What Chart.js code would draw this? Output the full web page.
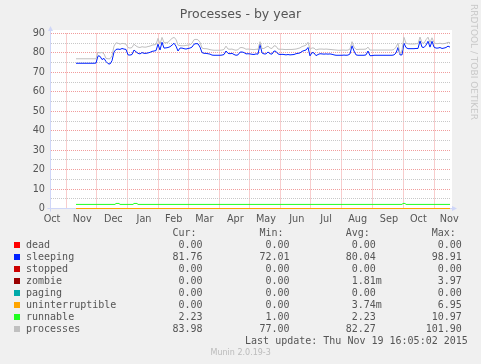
<!DOCTYPE html>
<html>
<head>
<meta charset="utf-8">
<title>Processes - by year</title>
<script src="https://cdn.jsdelivr.net/npm/chart.js@4/dist/chart.umd.min.js"></script>
<style>
html,body{margin:0;padding:0;background:#f0f0f0;}
#box{position:relative;width:481px;height:364px;overflow:hidden;color:#555;font-family:"DejaVu Sans",sans-serif;}
#c{position:absolute;left:0;top:0;}
.txt{position:absolute;white-space:pre;line-height:1;}
.mono{font-family:"DejaVu Sans Mono",monospace;}
.sq{position:absolute;width:6px;height:6px;}
</style>
</head>
<body>
<div id="box">
  <canvas id="c" width="481" height="364"></canvas>
</div>
<script>
// ---- data ----
// x axis = days into the 400-day window ending Thu Nov 19 16:05:02 2015
const monthNames     = ['Oct','Nov','Dec','Jan','Feb','Mar','Apr','May','Jun','Jul','Aug','Sep','Oct','Nov'];
const monthLabelDays = [1, 31.2, 62.3, 93, 122.7, 153.3, 184.3, 215, 245.7, 275, 306.7, 338, 367.3, 398.3];
const monthStartDays = [15.7, 45.5, 76, 107, 137.5, 168.5, 198.7, 229, 259.7, 290.3, 321.7, 352.3, 383];

const seriesNames  = ['dead','sleeping','stopped','zombie','paging','uninterruptible','runnable','processes'];
const seriesColors = ['#ff0000','#0022ff','#cc0000','#990000','#00aaaa','#ffa500','#22ff22','#c0c0c0'];
const curVals = ['0.00','81.76','0.00','0.00','0.00','0.00','2.23','83.98'];
const minVals = ['0.00','72.01','0.00','0.00','0.00','0.00','1.00','77.00'];
const avgVals = ['0.00','80.04','0.00','1.81m','0.00','3.74m','2.23','82.27'];
const maxVals = ['0.00','98.91','0.00','3.97','0.00','6.95','10.97','101.90'];

// sleeping / processes sampled every 2 days from day 25 to day 399
const FIRST_DAY = 25, STEP_DAYS = 2;
const sleeping = [
  74.7,74.7,74.7,74.7,74.7,74.7,74.7,74.7,74.7,74.7,
  74.8,78.5,78.3,76.6,77.2,75.6,74.5,74.3,76.0,80.5,
  81.8,82.0,81.8,82.3,82.0,81.8,79.0,78.9,79.2,81.5,
  80.6,79.8,79.5,80.2,79.8,79.8,80.0,80.3,80.8,81.0,
  81.2,84.5,81.5,85.5,82.5,82.6,82.8,83.2,84.0,85.0,
  83.5,81.0,82.5,82.5,82.2,82.0,82.3,82.5,83.0,84.5,
  84.8,84.7,83.0,80.2,79.8,79.8,79.6,79.4,78.9,78.8,
  78.8,78.8,78.8,78.9,79.2,81.0,79.8,79.6,79.8,79.2,
  78.8,79.0,80.4,80.5,80.2,79.5,79.6,79.5,79.3,79.2,
  79.5,79.4,84.5,80.0,79.5,79.5,80.5,79.6,79.4,81.0,
  80.8,79.5,79.2,79.3,79.2,79.0,79.2,79.0,79.1,79.2,
  79.6,79.8,80.0,80.8,81.2,81.5,82.8,78.5,80.2,80.0,
  78.6,79.2,79.6,79.5,79.4,79.5,79.4,79.5,79.3,79.0,
  78.8,78.8,78.8,78.8,78.9,78.8,78.9,79.5,83.7,81.0,
  79.0,78.8,78.8,78.8,78.8,79.0,81.0,78.6,78.6,78.8,
  78.8,78.8,78.8,78.8,78.8,78.8,78.8,78.8,78.8,79.0,
  80.0,82.8,79.0,79.0,85.0,82.8,82.2,82.2,82.2,82.2,
  82.3,82.3,86.2,83.0,82.8,84.0,86.0,83.0,86.0,83.0,
  82.5,82.5,82.8,82.3,82.5,82.8,83.5,83.0
];
const processes = [
  77.0,77.0,77.0,77.0,77.0,77.0,77.0,77.0,77.0,77.0,
  77.0,80.3,80.0,80.3,79.5,77.2,77.0,77.0,78.5,83.5,
  85.2,85.0,84.5,84.9,84.8,84.5,82.8,82.5,82.8,84.5,
  83.6,83.0,82.8,83.2,83.0,83.0,83.3,83.5,84.0,84.2,
  84.3,87.5,84.5,88.0,85.3,85.2,85.5,86.5,87.5,88.0,
  87.0,84.0,83.8,83.7,83.7,83.9,84.0,84.2,85.0,86.8,
  87.0,86.8,85.5,82.5,82.2,82.2,82.0,81.7,81.5,81.4,
  81.4,81.4,81.4,81.5,81.8,83.5,82.0,81.9,82.0,81.6,
  81.4,81.7,82.7,82.8,82.5,81.9,82.0,81.9,81.8,81.7,
  81.9,81.9,85.8,82.3,82.3,83.0,83.5,82.5,82.3,83.7,
  83.5,82.0,81.9,81.9,81.8,81.7,81.8,81.8,81.8,81.9,
  82.0,82.3,82.6,83.3,83.6,84.0,85.5,81.8,82.6,82.5,
  81.5,81.9,82.0,82.0,81.9,82.0,81.9,81.8,81.7,81.6,
  81.5,81.4,81.4,81.5,81.5,81.4,81.5,82.0,85.8,83.0,
  81.8,81.8,81.9,81.9,81.9,82.0,83.0,81.5,81.5,81.5,
  81.5,81.5,81.5,81.5,81.5,81.5,81.5,81.5,81.5,81.8,
  83.0,85.0,79.5,81.5,88.0,85.0,84.7,84.6,84.6,84.6,
  84.7,84.8,88.2,85.2,85.0,86.8,88.1,85.3,87.8,85.3,
  84.8,84.8,85.0,84.7,84.8,85.0,85.5,85.3
];
const runnableDays = [25, 64, 65, 68, 69, 82, 83, 86, 87, 351, 352, 354, 355, 399];
const runnable     = [2.1, 2.1, 2.6, 2.6, 2.1, 2.1, 2.6, 2.6, 2.1, 2.1, 2.6, 2.6, 2.1, 2.1];
const flatDays = [25, 399];
const dead = [0, 0], stopped = [0, 0], zombie = [0, 0], paging = [0, 0], uninterruptible = [0, 0];

// ---- build ----
const sampleDays = sleeping.map((_, i) => FIRST_DAY + i * STEP_DAYS);
const pts = (xs, ys) => xs.map((x, i) => ({x: x, y: ys[i]}));
const seriesPts = {
  dead: pts(flatDays, dead), sleeping: pts(sampleDays, sleeping), stopped: pts(flatDays, stopped),
  zombie: pts(flatDays, zombie), paging: pts(flatDays, paging), uninterruptible: pts(flatDays, uninterruptible),
  runnable: pts(runnableDays, runnable), processes: pts(sampleDays, processes)
};

// month boundaries carry the grid, mid-month ticks carry the names
const xTickList = monthStartDays.map(d => ({value: d, label: '', grid: true}))
  .concat(monthLabelDays.map((d, i) => ({value: d, label: monthNames[i], grid: false})))
  .sort((a, b) => a.value - b.value);

const MGRID = '#f19c9c', GRID = '#c8c8c8', AXIS = '#cfd6f8';
const FONT = {family: 'DejaVu Sans', size: 9.7};

const plotFrame = {
  id: 'plotFrame',
  beforeDraw(chart) {
    const {ctx, chartArea: a} = chart;
    const l = Math.round(a.left), t = Math.floor(a.top) - 3, b = Math.floor(a.bottom);
    ctx.save();
    ctx.fillStyle = '#ffffff';
    ctx.fillRect(l, t, Math.round(a.right) - l + 1, b - t);
    ctx.restore();
  },
  beforeDatasetsDraw(chart) {
    const {ctx, chartArea: a} = chart;
    const x0 = Math.round(a.left) - 0.5, y0 = Math.floor(a.bottom) + 0.5, t = Math.floor(a.top);
    ctx.save();
    ctx.strokeStyle = AXIS; ctx.fillStyle = AXIS; ctx.lineWidth = 1;
    ctx.beginPath();
    ctx.moveTo(x0, y0 + 3); ctx.lineTo(x0, t - 3);
    ctx.moveTo(x0 - 3, y0); ctx.lineTo(Math.round(a.right) + 2, y0);
    ctx.stroke();
    ctx.beginPath();
    ctx.moveTo(x0, t - 7); ctx.lineTo(x0 - 2.5, t - 2); ctx.lineTo(x0 + 2.5, t - 2);
    ctx.closePath(); ctx.fill();
    const r = Math.round(a.right);
    ctx.beginPath();
    ctx.moveTo(r + 6, y0); ctx.lineTo(r + 1, y0 - 2.5); ctx.lineTo(r + 1, y0 + 2.5);
    ctx.closePath(); ctx.fill();
    ctx.restore();
  }
};

new Chart(document.getElementById('c'), {
  type: 'line',
  data: {
    datasets: seriesNames.map((n, i) => ({
      label: n, data: seriesPts[n], borderColor: seriesColors[i], backgroundColor: seriesColors[i],
      borderWidth: 1, pointRadius: 0, tension: 0, fill: false, clip: 5,
      order: seriesNames.length - i
    }))
  },
  options: {
    responsive: false, animation: false,
    layout: {padding: {top: 33.5, right: 30, bottom: 135.5, left: 0}},
    plugins: {legend: {display: false}, tooltip: {enabled: false}},
    scales: {
      x: {
        type: 'linear', min: 0, max: 400,
        afterFit: s => { s.height = 20; },
        afterBuildTicks: s => { s.ticks = xTickList.map(t => ({value: t.value})); },
        ticks: {autoSkip: false, maxRotation: 0, padding: 5.3, color: '#555', font: FONT,
                callback: (v, i) => xTickList[i] ? xTickList[i].label : ''},
        grid: {drawTicks: false, lineWidth: 1,
               color: c => (c.tick && xTickList[c.index] && xTickList[c.index].grid) ? MGRID : 'rgba(0,0,0,0)'},
        border: {display: false, dash: [1, 1]}
      },
      y: {
        min: 0, max: 90,
        afterFit: s => { s.width = 51; },
        ticks: {stepSize: 5, autoSkip: false, padding: 6, color: '#555', font: FONT,
                callback: v => (v % 10 === 0 ? String(v) : '')},
        grid: {drawTicks: false, lineWidth: 1,
               color: c => (c.tick && c.tick.value % 10 === 0) ? MGRID : GRID},
        border: {display: false, dash: [1, 1]}
      }
    }
  },
  plugins: [plotFrame]
});

// ---- text: title, legend, footer ----
const box = document.getElementById('box');
function addText(s, x, base, size, align, mono, color) {
  const d = document.createElement('div');
  d.className = 'txt' + (mono ? ' mono' : '');
  d.textContent = s;
  d.style.fontSize = size + 'px';
  d.style.top = (base - 0.846 * size) + 'px';
  if (align === 'right') d.style.right = (481 - x) + 'px';
  else if (align === 'center') { d.style.left = x + 'px'; d.style.transform = 'translateX(-50%)'; }
  else d.style.left = x + 'px';
  if (color) d.style.color = color;
  box.appendChild(d);
  return d;
}

addText('Processes - by year', 240.5, 18.3, 12.5, 'center', false, '#555');

const wm = addText('RRDTOOL / TOBI OETIKER', 477.5, 0, 9, 'left', false, '#c8c8c8');
wm.style.top = '4px';
wm.style.transformOrigin = '0 0';
wm.style.transform = 'rotate(90deg)';

const colRight = [208.6, 295.6, 381.8, 467.8];
const headers = ['Cur:', 'Min:', 'Avg:', 'Max:'];
headers.forEach((h, j) => addText(h, colRight[j] - 12, 236, 10, 'right', true));
const pad = s => (/[0-9]$/.test(s) ? s + ' ' : s);
seriesNames.forEach((n, i) => {
  const base = 248 + 12 * i;
  const sq = document.createElement('div');
  sq.className = 'sq';
  sq.style.left = '14px';
  sq.style.top = (base - 6) + 'px';
  sq.style.background = seriesColors[i];
  box.appendChild(sq);
  addText(n, 26, base, 10, 'left', true);
  [curVals, minVals, avgVals, maxVals].forEach((col, j) => addText(pad(col[i]), colRight[j], base, 10, 'right', true));
});
addText('Last update: Thu Nov 19 16:05:02 2015', 467.8, 344, 10, 'right', true);
addText('Munin 2.0.19-3', 240.7, 355.7, 8, 'center', false, '#bbbbbb');
</script>
</body>
</html>
